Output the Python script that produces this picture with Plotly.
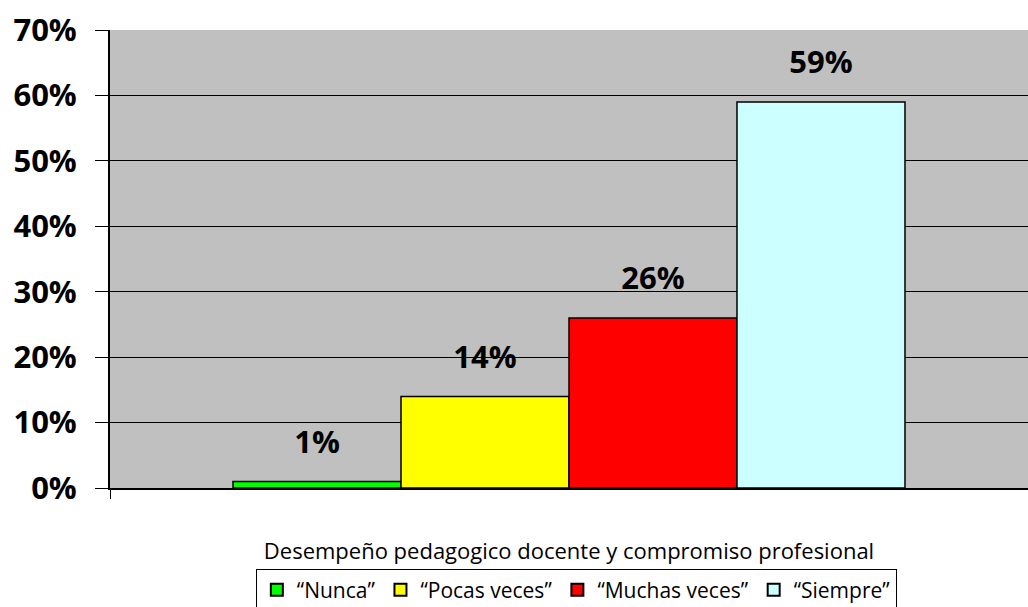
import plotly.graph_objects as go

category = ["Desempeño pedagogico docente y compromiso profesional"]
series_names = ["“Nunca”", "“Pocas veces”", "“Muchas veces”", "“Siempre”"]
series_values = [0.01, 0.14, 0.26, 0.59]
series_colors = ["#00FF00", "#FFFF00", "#FF0000", "#CCFFFF"]

FONT = "Open Sans"

fig = go.Figure()
for name, val, col in zip(series_names, series_values, series_colors):
    fig.add_trace(go.Bar(
        x=category, y=[val], name=name,
        marker=dict(color=col, line=dict(color="black", width=1.5)),
        texttemplate="<span style='font-size:31px'><b>%{y:.0%}</b></span><br> ",
        textposition="outside",
        textfont=dict(family=FONT, size=16, color="black"),
        cliponaxis=False,
    ))

fig.update_layout(
    width=1028, height=607,
    margin=dict(l=110, r=0, t=30, b=119, autoexpand=False),
    paper_bgcolor="white",
    plot_bgcolor="#C0C0C0",
    barmode="group",
    bargap=0.268,
    bargroupgap=0,
    showlegend=True,
    legend=dict(
        orientation="h", x=0.508, xanchor="center", y=-0.176, yanchor="top",
        bordercolor="black", borderwidth=1, bgcolor="white",
        font=dict(family=FONT, size=21, color="black"),
        itemsizing="constant", traceorder="normal",
    ),
    font=dict(family=FONT, color="black"),
)
fig.update_yaxes(
    range=[0, 0.7], dtick=0.1, tickformat=".0%",
    showgrid=True, gridcolor="black", gridwidth=1,
    showline=True, linecolor="black", linewidth=2,
    ticks="outside", ticklen=13, tickcolor="black", tickwidth=1,
    tickfont=dict(family=FONT, size=31, color="black", weight="bold"),
    ticklabelstandoff=12,
    zeroline=False,
)
fig.update_xaxes(
    showline=True, linecolor="black", linewidth=2,
    ticks="outside", tickson="boundaries", ticklen=9, tickcolor="black",
    tickfont=dict(family=FONT, size=22, color="black"),
    ticklabelstandoff=43,
)
fig.write_html("out.html", config={"displayModeBar": False},
               post_script="document.body.style.margin='0';")
